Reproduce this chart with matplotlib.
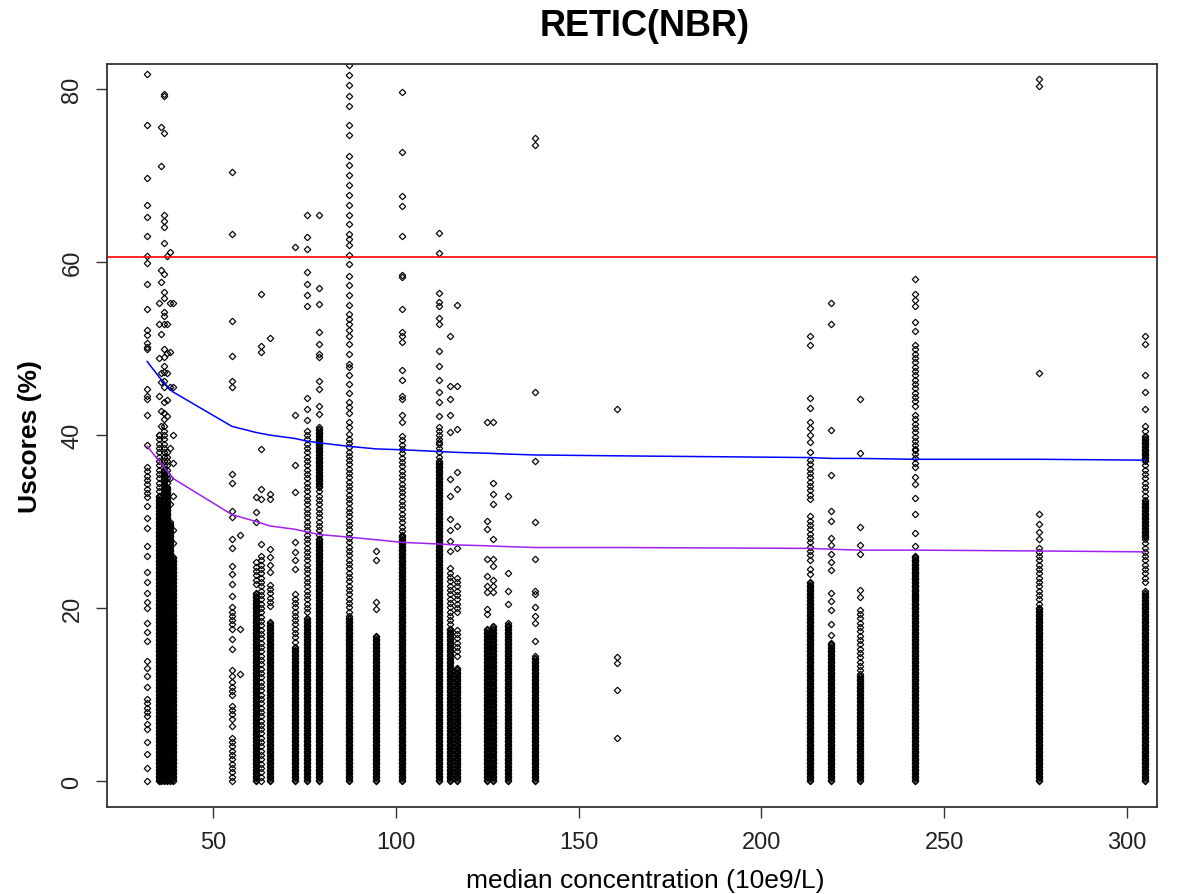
import numpy as np
import matplotlib
matplotlib.use('Agg')
from matplotlib import pyplot as plt

# --- data ---------------------------------------------------------------
# x position of every concentration column
col_x = [32.0, 35.2, 35.8, 36.6, 37.4, 38.2, 39.0, 55.2, 57.4, 61.8, 63.1, 65.5,
         72.5, 75.7, 79.1, 87.1, 94.6, 101.6, 111.9, 114.8, 116.6, 124.9, 126.5,
         130.7, 138.1, 160.5, 213.2, 219.1, 226.9, 241.9, 275.9, 304.8]

# ranges where the markers overlap into a solid bar
col_dense = [
    [],
    [(0, 33)], [(0, 31)], [(0, 36)], [(0, 34)], [(0, 30)], [(0, 26)],
    [],
    [],
    [(0, 21.8)], [], [(0, 18.4)],
    [(0, 15.6)], [(0, 19)], [(0, 28), (34, 41)], [(0, 19)], [(0, 16.8)],
    [(0, 28.4)], [(0, 37)], [(0, 17.6)], [(0, 13.2)], [(0, 17.6)], [(0, 18.0)],
    [(0, 18.3)], [(0, 14.5)], [],
    [(0, 23.1)], [(0, 16.1)], [(0, 12.4)], [(0, 26)],
    [(0, 20)], [(0, 22), (28, 32.6), (37, 40)],
]

# ranges with a loose chain of separate markers
col_loose = [
    [(7.5, 9.9), (32.8, 36.5)],
    [(33, 40)], [], [(36, 41)], [(34, 38)], [], [],
    [(0, 2.2), (2.5, 5.4), (7.2, 9.1), (9.9, 11.4), (17.6, 20.3)],
    [],
    [(22.8, 25.3)], [(0, 26)], [(20.2, 22.8)],
    [(16.1, 22)], [(19.5, 40.7)], [(28, 34)], [(19.1, 40.1)], [],
    [(28.4, 40)], [(37, 40.7)], [(17.6, 24.9)], [(14.5, 17.6), (19.5, 23.7)], [], [],
    [], [], [],
    [(25.6, 31), (32.6, 37.1)], [], [(12.8, 20.2)], [(20, 26), (36.3, 42.1), (43.4, 50.6)],
    [(20, 27)], [(23, 27.5), (33, 36.7)],
]

# single markers above / between the bars
col_pts = [
    [81.7, 75.8, 69.7, 66.6, 65.2, 63.0, 60.7, 59.9, 57.5, 54.6, 52.1, 51.6, 50.7,
     50.2, 50.0, 45.3, 44.5, 44.2, 42.3, 38.8, 31.8, 30.4, 29.2, 27.2, 26.0, 24.2,
     23.0, 21.7, 20.7, 20.0, 18.3, 17.2, 16.2, 13.9, 13.1, 12.2, 10.9, 6.6, 6.0,
     4.5, 3.1, 1.5, 0.0],
    [55.3, 52.8, 48.9, 44.5, 40.0],
    [75.6, 71.1, 59.1, 57.7, 51.7, 47.2, 46.1, 42.8, 41.1],
    [79.4, 79.2, 74.9, 65.4, 64.7, 64.0, 62.2, 58.6, 56.5, 55.9, 54.2, 53.8, 52.8,
     50.0, 49.0, 48.0, 47.3, 46.3, 45.5, 43.8, 42.6, 41.8],
    [60.7, 52.8, 49.5, 47.2, 44.0, 42.2],
    [61.2, 55.3, 49.6, 45.5, 38.5, 35.0, 32.0],
    [55.3, 45.5, 40.0, 36.8, 33.0, 29.0, 27.5],
    [70.4, 63.2, 53.2, 49.1, 46.3, 45.5, 35.5, 34.5, 31.2, 30.5, 28.0, 27.0, 24.9,
     23.9, 22.8, 21.4, 16.4, 15.3, 12.8, 12.2, 6.4],
    [28.4, 17.6, 12.4],
    [32.8, 31.1, 30.0],
    [56.3, 50.3, 49.6, 38.4, 33.8, 32.6, 27.4],
    [51.2, 33.2, 32.6, 26.8, 25.9, 25.0, 24.2],
    [61.7, 42.3, 36.5, 33.4, 27.6, 26.5, 25.5, 24.5],
    [65.5, 62.9, 61.5, 58.9, 57.5, 56.2, 54.9, 44.3, 43.0, 41.7],
    [65.5, 57.0, 55.1, 51.9, 50.5, 49.4, 49.0, 46.3, 45.3, 43.4, 42.4],
    [82.8, 81.6, 80.5, 79.2, 78.1, 75.9, 74.7, 72.3, 71.2, 70.1, 68.9, 67.7, 66.6,
     65.5, 64.4, 63.2, 62.7, 62.0, 60.8, 59.8, 58.4, 57.3, 56.2, 55.0, 54.0, 53.4,
     52.8, 52.1, 51.5, 50.5, 49.4, 48.2, 47.9, 47.0, 45.9, 44.9, 43.8, 43.2, 42.6,
     41.5, 40.9],
    [26.6, 25.5, 20.7, 19.9],
    [79.7, 72.7, 67.6, 66.5, 63.0, 58.5, 58.3, 54.6, 51.9, 51.5, 50.8, 47.5, 46.4,
     44.5, 44.2, 42.3, 41.5],
    [63.4, 61.0, 56.4, 55.4, 54.9, 53.5, 52.8, 49.7, 48.0, 46.4, 45.0, 43.8, 42.2,
     40.9, 39.2],
    [51.4, 45.7, 44.2, 42.3, 40.3, 34.9, 33.0, 30.3, 29.0, 27.8, 26.6],
    [55.0, 45.7, 40.7, 35.7, 33.8, 29.5, 27.0],
    [41.5, 30.1, 29.1, 25.7, 23.7, 22.6, 21.8, 19.9, 19.3],
    [41.5, 34.5, 33.2, 32.0, 28.0, 25.7, 24.9, 23.2, 22.5, 21.8],
    [33.0, 24.1, 22.0, 20.5],
    [74.4, 73.5, 45.0, 37.0, 30.0, 25.7, 22.0, 21.6, 20.1, 19.1, 18.3, 16.2],
    [43.0, 14.3, 13.6, 10.5, 5.0],
    [51.5, 50.4, 44.3, 43.1, 41.5, 40.8, 40.0, 39.2, 38.0, 24.5, 23.9],
    [55.3, 52.8, 40.6, 35.4, 31.2, 30.1, 28.1, 27.3, 26.2, 25.3, 24.4, 21.7, 20.8,
     19.8, 18.2, 16.9],
    [44.2, 37.9, 29.4, 27.3, 26.2, 22.1, 21.3],
    [58.0, 56.3, 55.6, 54.9, 53.1, 52.0, 42.3, 38.4, 35.1, 34.3, 32.7, 30.9, 28.7,
     27.2],
    [81.2, 80.3, 47.2, 30.9, 29.7, 28.8, 28.0],
    [51.5, 50.5, 47.0, 45.0, 43.0, 41.0, 40.5],
]

# fitted curves at each column
fit_x = [32.0, 36.0, 39.0, 55.2, 61.8, 65.5, 72.5, 75.7, 79.1, 87.1, 94.6, 101.6,
         111.9, 116.6, 124.9, 130.7, 138.1, 160.5, 213.2, 219.1, 226.9, 241.9,
         275.9, 304.8]
fit_upper = [48.5, 46.3, 45.0, 41.0, 40.3, 40.0, 39.6, 39.3, 39.1, 38.7, 38.4,
             38.3, 38.1, 38.0, 37.9, 37.8, 37.7, 37.6, 37.4, 37.3, 37.3, 37.2,
             37.2, 37.1]
fit_lower = [38.7, 36.6, 35.0, 30.8, 30.0, 29.5, 29.1, 28.8, 28.5, 28.2, 27.9,
             27.6, 27.4, 27.3, 27.2, 27.1, 27.0, 27.0, 26.9, 26.8, 26.7, 26.7,
             26.6, 26.5]
limit = 60.6


def expand(lo, hi, step):
    return list(np.arange(lo, hi + 1e-9, step))


def main():
    xs, ys = [], []
    for x, dense, loose, pts in zip(col_x, col_dense, col_loose, col_pts):
        vals = list(pts)
        for lo, hi in dense:
            vals += expand(lo, hi, 0.16)
        for lo, hi in loose:
            vals += expand(lo, hi, 0.5)
        xs += [x] * len(vals)
        ys += vals

    plt.rcParams['font.family'] = ['Liberation Sans', 'DejaVu Sans']
    fig = plt.figure(figsize=(11.82, 8.95), dpi=100)
    ax = fig.add_axes([107 / 1182, 1 - 808 / 895, 1050 / 1182, 743 / 895])

    ax.plot(xs, ys, linestyle='none', marker='D', markersize=3.3,
            markerfacecolor='none', markeredgecolor='#000000', markeredgewidth=0.85)
    ax.axhline(limit, color='#ff0000', lw=1.2)
    ax.plot(fit_x, fit_upper, color='#0000ff', lw=1.1)
    ax.plot(fit_x, fit_lower, color='#a020f0', lw=1.1)

    ax.set_xlim(21.0, 308.2)
    ax.set_ylim(-3.0, 82.9)
    ax.set_xticks([50, 100, 150, 200, 250, 300])
    ax.set_yticks([0, 20, 40, 60, 80])
    for s in ax.spines.values():
        s.set_color('#333333')
        s.set_linewidth(1.3)
    ax.tick_params(direction='out', length=8, width=1.0, color='#333333',
                   labelcolor='#222222', labelsize=17, pad=9)
    for lab in ax.get_yticklabels():
        lab.set_rotation(90)
        lab.set_va('center')

    fig.text(645 / 1182, 1 - 881 / 895, 'median concentration (10e9/L)',
             ha='center', va='center', fontsize=19)
    ax.set_ylabel('Uscores (%)', fontsize=19, fontweight='bold', labelpad=14)
    fig.text(645 / 1182, 1 - 27 / 895, 'RETIC(NBR)', ha='center', va='center',
             fontsize=26, fontweight='bold')

    fig.savefig('out.png', dpi=100)
    plt.close()


if __name__ == "__main__":
    main()
